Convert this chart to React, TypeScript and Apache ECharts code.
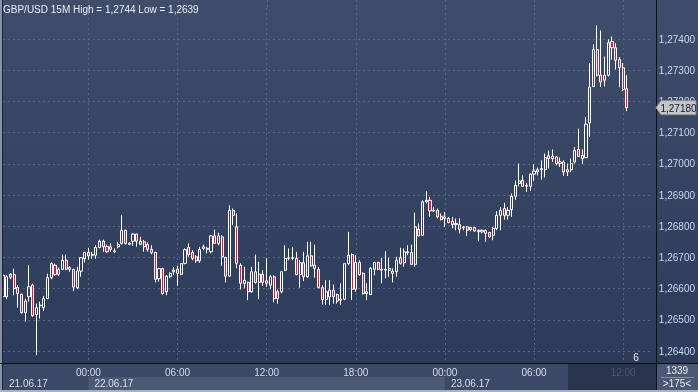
import React, { useEffect, useRef } from 'react';
import * as echarts from 'echarts';

// 15-minute candles, first one at 21.06.17 18:15
const opens = [
  1.26574,1.26574,1.26646,1.26645,1.26604,1.26582,1.26523,1.26574,1.26611,1.26517,
  1.26545,1.26539,1.26568,1.26635,1.26675,1.26646,1.26662,1.26691,1.26662,1.26661,
  1.26603,1.26656,1.26696,1.26716,1.26707,1.26707,1.26732,1.26752,1.26735,1.26726,
  1.26718,1.26734,1.26745,1.26787,1.26742,1.26752,1.26775,1.26742,1.26750,1.26741,
  1.26726,1.26716,1.26632,1.26664,1.26590,1.26638,1.26654,1.26662,1.26646,1.26681,
  1.26732,1.26716,1.26702,1.26689,1.26729,1.26726,1.26718,1.26769,1.26745,1.26766,
  1.26700,1.26640,1.26851,1.26798,1.26675,1.26617,1.26620,1.26590,1.26654,1.26620,
  1.26646,1.26625,1.26611,1.26638,1.26590,1.26590,1.26659,1.26697,1.26697,1.26697,
  1.26645,1.26683,1.26638,1.26705,1.26675,1.26661,1.26603,1.26565,1.26574,1.26595,
  1.26581,1.26563,1.26566,1.26680,1.26709,1.26598,1.26684,1.26649,1.26584,1.26581,
  1.26662,1.26684,1.26659,1.26659,1.26659,1.26656,1.26654,1.26699,1.26683,1.26715,
  1.26716,1.26678,1.26790,1.26771,1.26878,1.26883,1.26849,1.26851,1.26832,1.26825,
  1.26825,1.26816,1.26805,1.26805,1.26795,1.26798,1.26789,1.26796,1.26782,1.26782,
  1.26786,1.26780,1.26771,1.26793,1.26835,1.26857,1.26835,1.26853,1.26896,1.26937,
  1.26947,1.26928,1.26928,1.26967,1.26981,1.26981,1.26981,1.27026,1.27017,1.27022,
  1.27001,1.27006,1.26974,1.26981,1.27006,1.27046,1.27027,1.27020,1.27131,1.27248,
  1.27366,1.27284,1.27268,1.27284,1.27392,1.27372,1.27334,1.27308,1.27241,
];
const highs = [
  1.26646,1.26643,1.26650,1.26664,1.26611,1.26584,1.26568,1.26675,1.26616,1.26552,
  1.26558,1.26577,1.26648,1.26684,1.26680,1.26668,1.26709,1.26709,1.26672,1.26664,
  1.26670,1.26700,1.26718,1.26731,1.26718,1.26739,1.26757,1.26757,1.26741,1.26745,
  1.26729,1.26750,1.26835,1.26789,1.26748,1.26777,1.26776,1.26766,1.26756,1.26748,
  1.26739,1.26718,1.26667,1.26667,1.26643,1.26652,1.26670,1.26673,1.26681,1.26729,
  1.26745,1.26723,1.26707,1.26734,1.26741,1.26734,1.26771,1.26789,1.26779,1.26771,
  1.26702,1.26867,1.26857,1.26841,1.26681,1.26670,1.26622,1.26670,1.26709,1.26686,
  1.26659,1.26697,1.26643,1.26643,1.26597,1.26656,1.26739,1.26729,1.26734,1.26718,
  1.26691,1.26718,1.26750,1.26750,1.26741,1.26670,1.26611,1.26627,1.26627,1.26613,
  1.26584,1.26617,1.26681,1.26782,1.26713,1.26707,1.26691,1.26652,1.26617,1.26670,
  1.26685,1.26686,1.26699,1.26720,1.26699,1.26665,1.26702,1.26731,1.26729,1.26739,
  1.26741,1.26844,1.26809,1.26883,1.26912,1.26894,1.26862,1.26857,1.26841,1.26846,
  1.26830,1.26830,1.26825,1.26825,1.26801,1.26801,1.26798,1.26798,1.26790,1.26790,
  1.26790,1.26782,1.26798,1.26848,1.26862,1.26875,1.26862,1.26905,1.26947,1.27001,
  1.26963,1.26939,1.26969,1.26999,1.26988,1.27011,1.27033,1.27043,1.27046,1.27024,
  1.27020,1.27011,1.27001,1.27017,1.27054,1.27113,1.27046,1.27150,1.27323,1.27383,
  1.27444,1.27428,1.27344,1.27399,1.27408,1.27387,1.27342,1.27323,1.27284,
];
const lows = [
  1.26568,1.26566,1.26630,1.26579,1.26539,1.26520,1.26494,1.26558,1.26510,1.26387,
  1.26504,1.26528,1.26566,1.26630,1.26641,1.26640,1.26659,1.26659,1.26654,1.26592,
  1.26598,1.26638,1.26684,1.26693,1.26696,1.26696,1.26729,1.26718,1.26715,1.26718,
  1.26715,1.26729,1.26741,1.26741,1.26739,1.26737,1.26734,1.26739,1.26718,1.26718,
  1.26710,1.26620,1.26622,1.26581,1.26579,1.26635,1.26643,1.26609,1.26643,1.26678,
  1.26702,1.26691,1.26683,1.26683,1.26723,1.26713,1.26713,1.26743,1.26739,1.26673,
  1.26620,1.26638,1.26803,1.26665,1.26597,1.26601,1.26563,1.26587,1.26616,1.26566,
  1.26609,1.26606,1.26598,1.26556,1.26552,1.26585,1.26656,1.26691,1.26691,1.26643,
  1.26603,1.26624,1.26635,1.26670,1.26635,1.26601,1.26549,1.26547,1.26547,1.26552,
  1.26552,1.26547,1.26563,1.26675,1.26563,1.26590,1.26641,1.26581,1.26563,1.26579,
  1.26643,1.26659,1.26617,1.26633,1.26638,1.26620,1.26638,1.26677,1.26670,1.26707,
  1.26675,1.26670,1.26768,1.26769,1.26873,1.26830,1.26846,1.26825,1.26819,1.26798,
  1.26809,1.26793,1.26787,1.26777,1.26787,1.26769,1.26784,1.26782,1.26752,1.26777,
  1.26750,1.26763,1.26755,1.26787,1.26787,1.26821,1.26821,1.26830,1.26885,1.26928,
  1.26926,1.26910,1.26913,1.26945,1.26963,1.26949,1.26956,1.26985,1.27006,1.26995,
  1.26990,1.26962,1.26961,1.26973,1.27001,1.27022,1.26999,1.27018,1.27086,1.27246,
  1.27280,1.27246,1.27248,1.27280,1.27334,1.27302,1.27246,1.27233,1.27169,
];
const closes = [
  1.26643,1.26638,1.26636,1.26600,1.26584,1.26523,1.26560,1.26606,1.26513,1.26539,
  1.26547,1.26568,1.26635,1.26680,1.26645,1.26661,1.26691,1.26662,1.26667,1.26605,
  1.26657,1.26699,1.26716,1.26705,1.26709,1.26732,1.26752,1.26734,1.26718,1.26734,
  1.26721,1.26741,1.26787,1.26745,1.26746,1.26775,1.26752,1.26752,1.26734,1.26726,
  1.26715,1.26630,1.26664,1.26584,1.26640,1.26649,1.26659,1.26649,1.26680,1.26725,
  1.26709,1.26697,1.26689,1.26725,1.26734,1.26729,1.26769,1.26745,1.26769,1.26702,
  1.26640,1.26851,1.26835,1.26681,1.26617,1.26627,1.26590,1.26654,1.26620,1.26646,
  1.26620,1.26617,1.26638,1.26568,1.26568,1.26654,1.26697,1.26699,1.26699,1.26645,
  1.26683,1.26638,1.26705,1.26673,1.26665,1.26603,1.26565,1.26590,1.26595,1.26574,
  1.26560,1.26566,1.26680,1.26707,1.26598,1.26684,1.26645,1.26584,1.26590,1.26665,
  1.26684,1.26662,1.26662,1.26662,1.26665,1.26649,1.26691,1.26681,1.26718,1.26718,
  1.26678,1.26798,1.26769,1.26878,1.26883,1.26849,1.26851,1.26830,1.26821,1.26830,
  1.26812,1.26805,1.26809,1.26790,1.26798,1.26787,1.26796,1.26785,1.26787,1.26787,
  1.26777,1.26766,1.26793,1.26835,1.26851,1.26835,1.26851,1.26896,1.26931,1.26945,
  1.26928,1.26931,1.26967,1.26977,1.26974,1.26985,1.27020,1.27017,1.27025,1.27001,
  1.27006,1.26974,1.26981,1.27001,1.27043,1.27024,1.27017,1.27127,1.27246,1.27366,
  1.27284,1.27262,1.27284,1.27388,1.27372,1.27332,1.27308,1.27238,1.27180,
];

const SYMBOL = 'GBP/USD';
const PERIOD = '15M';
const START_MINUTES = 18 * 60 + 15; // 21.06.17 18:15
const START_DAY = 21;
const SLOT_COUNT = 176; // visible bars incl. empty right margin
const BAR_COUNT_TEXT = '1339';
const VISIBLE_TEXT = '>175<';
const SHIFT_TEXT = '6';
const Y_MIN = 1.263616;
const Y_MAX = 1.274995;

const pad = (n: number) => (n < 10 ? '0' + n : '' + n);
const categories: string[] = [];
for (let i = 0; i < SLOT_COUNT; i++) {
  const m = START_MINUTES + 15 * i;
  const day = START_DAY + Math.floor(m / 1440);
  const r = m % 1440;
  categories.push(`${pad(day)}.06.17 ${pad(Math.floor(r / 60))}:${pad(r % 60)}`);
}
const candleData = opens.map((o, i) => [o, closes[i], lows[i], highs[i]]);

const fmt = (v: number, d: number) => v.toFixed(d).replace('.', ',');
const FONT = "'Liberation Sans', Arial, sans-serif";
const FS = 10;

const isSixHour = (v: string) => {
  const t = v.slice(9);
  const h = parseInt(t.slice(0, 2), 10);
  return t.slice(3) === '00' && h % 6 === 0;
};

export default function App() {
  const ref = useRef<HTMLDivElement>(null);
  useEffect(() => {
    const chart = echarts.init(ref.current!, null, { renderer: 'svg' });
    const dash = [2, 3];
    const dashed = { color: '#56658a', type: dash as any, width: 1 };
    chart.setOption({
      animation: false,
      grid: { left: 3, right: 42, top: 8, bottom: 29 },
      xAxis: [
        {
          type: 'category',
          data: categories,
          boundaryGap: false,
          axisLine: { show: false },
          axisTick: { show: false },
          axisLabel: {
            interval: (_i: number, v: string) => isSixHour(v),
            formatter: (v: string) => v.slice(9),
            color: '#d6dfee',
            fontSize: FS,
            fontFamily: FONT,
            margin: 4,
          },
          splitLine: { show: true, interval: (_i: number, v: string) => isSixHour(v), lineStyle: dashed },
        },
        {
          type: 'category',
          data: categories,
          boundaryGap: false,
          position: 'bottom',
          offset: 11,
          axisLine: { show: false },
          axisTick: { show: false },
          splitLine: { show: false },
          axisLabel: {
            interval: (i: number, v: string) => i === 0 || v.slice(9) === '00:00',
            formatter: (v: string) => v.slice(0, 8),
            align: 'left',
            padding: [0, 0, 0, 6],
            color: '#d6dfee',
            fontSize: FS,
            fontFamily: FONT,
            margin: 4,
          },
        },
      ],
      yAxis: {
        type: 'value',
        position: 'right',
        min: Y_MIN,
        max: Y_MAX,
        splitNumber: 10,
        scale: true,
        axisLine: { show: false },
        axisTick: { show: false },
        axisLabel: {
          formatter: (v: number) => fmt(v, 5),
          color: '#cbd7ee',
          fontSize: FS,
          fontFamily: FONT,
          margin: 6,
          showMinLabel: false,
          showMaxLabel: false,
        },
        splitLine: { show: true, showMinLine: false, showMaxLine: false, lineStyle: dashed },
      },
      series: [
        {
          type: 'candlestick',
          data: candleData,
          barWidth: 2.6,
          itemStyle: {
            color: 'rgba(0,0,0,0)',
            color0: '#e3173e',
            borderColor: '#ffffff',
            borderColor0: '#ffffff',
            borderWidth: 1,
          },
          z: 5,
        },
      ],
    });

    const lastClose = closes[closes.length - 1];
    const yLast = chart.convertToPixel({ yAxisIndex: 0 }, lastClose) as number;
    const midnights = categories
      .map((c, i) => (c.slice(9) === '00:00' ? i : -1))
      .filter((i) => i >= 0);
    const xM1 = chart.convertToPixel({ xAxisIndex: 0 }, midnights[0]) as number;
    const xM2 = chart.convertToPixel({ xAxisIndex: 0 }, midnights[1]) as number;
    const hi = Math.max(...highs);
    const lo = Math.min(...lows);
    const topSegments = categories
      .map((c, i) => (isSixHour(c) ? i : -1))
      .filter((i) => i >= 0)
      .map((i, k) => {
        const x = Math.round(chart.convertToPixel({ xAxisIndex: 0 }, i) as number) + 0.5;
        return {
          type: 'line', id: 'vtop' + k, z: -5, silent: true,
          shape: { x1: x, y1: 0, x2: x, y2: 8 },
          style: { stroke: '#56658a', lineWidth: 1, lineDash: dash },
        };
      });

    chart.setOption({
      graphic: [
        {
          type: 'rect', id: 'bg', z: -100, silent: true,
          shape: { x: 0, y: 0, width: 698, height: 392 },
          style: {
            fill: new echarts.graphic.LinearGradient(0, 0, 0, 1, [
              { offset: 0, color: '#3f4d6b' },
              { offset: 0.93, color: '#2d3b5a' },
              { offset: 1, color: '#2d3b5a' },
            ]),
          },
        },
        ...topSegments,
        {
          type: 'rect', id: 'axisrow', z: -90, silent: true,
          shape: { x: 0, y: 363, width: 656, height: 29 },
          style: { fill: '#3b4966' },
        },
        {
          type: 'rect', id: 'dayband', z: -80, silent: true,
          shape: { x: xM1, y: 377, width: xM2 - xM1, height: 13 },
          style: { fill: '#4b5974' },
        },
        {
          type: 'rect', id: 'overlay', z: 100, silent: true,
          shape: { x: 568, y: 364, width: 88, height: 26 },
          style: { fill: 'rgba(36,46,72,0.78)' },
        },
        {
          type: 'rect', id: 'leftborder', z: 100, silent: true,
          shape: { x: 0, y: 0, width: 2, height: 392 },
          style: { fill: '#8793a8' },
        },
        {
          type: 'rect', id: 'bottomborder', z: 100, silent: true,
          shape: { x: 0, y: 390, width: 698, height: 2 },
          style: { fill: '#a9b2c2' },
        },
        {
          type: 'line', id: 'hline', z: 101, silent: true,
          shape: { x1: 0, y1: 363.5, x2: 698, y2: 363.5 },
          style: { stroke: '#0b0f18', lineWidth: 1 },
        },
        {
          type: 'line', id: 'vline', z: 101, silent: true,
          shape: { x1: 656.5, y1: 0, x2: 656.5, y2: 390 },
          style: { stroke: '#0b0f18', lineWidth: 1 },
        },
        {
          type: 'line', id: 'lline', z: 101, silent: true,
          shape: { x1: 2.5, y1: 0, x2: 2.5, y2: 390 },
          style: { stroke: '#1a2233', lineWidth: 1 },
        },
        {
          type: 'rect', id: 'infobox', z: 100, silent: true,
          shape: { x: 657, y: 364, width: 41, height: 26 },
          style: { fill: '#4a5874' },
        },
        {
          type: 'line', id: 'infosep', z: 101, silent: true,
          shape: { x1: 661, y1: 377.5, x2: 694, y2: 377.5 },
          style: { stroke: '#8490a6', lineWidth: 1 },
        },
        {
          type: 'text', id: 'bars', z: 102, silent: true,
          style: { x: 677, y: 370.5, text: BAR_COUNT_TEXT, fill: '#e8edf5', font: `${FS}px ${FONT}`, align: 'center', verticalAlign: 'middle' },
        },
        {
          type: 'text', id: 'visible', z: 102, silent: true,
          style: { x: 677, y: 383.5, text: VISIBLE_TEXT, fill: '#e8edf5', font: `${FS}px ${FONT}`, align: 'center', verticalAlign: 'middle' },
        },
        {
          type: 'text', id: 'six', z: 102, silent: true,
          style: { x: 636, y: 357, text: SHIFT_TEXT, fill: '#e8edf5', font: `${FS}px ${FONT}`, align: 'center', verticalAlign: 'middle' },
        },
        {
          type: 'text', id: 'title', z: 102, silent: true,
          style: {
            x: 3, y: 9,
            text: `${SYMBOL} ${PERIOD} High = ${fmt(hi, 4)} Low = ${fmt(lo, 4)}`,
            fill: '#e9eef6', font: `${FS}px ${FONT}`, align: 'left', verticalAlign: 'middle',
          },
        },
        {
          type: 'polygon', id: 'pricebox', z: 103, silent: true,
          shape: {
            points: [
              [656, yLast], [661, yLast - 7], [696, yLast - 7], [696, yLast + 7], [661, yLast + 7],
            ],
          },
          style: { fill: '#c4c6ca', stroke: '#8e939c', lineWidth: 1 },
        },
        {
          type: 'text', id: 'pricetext', z: 104, silent: true,
          style: { x: 678.5, y: yLast + 0.5, text: fmt(lastClose, 5), fill: '#15181f', font: `${FS}px ${FONT}`, align: 'center', verticalAlign: 'middle' },
        },
      ],
    });
    return () => chart.dispose();
  }, []);
  return <div ref={ref} style={{ position: 'fixed', left: 0, top: 0, width: 698, height: 392 }} />;
}
